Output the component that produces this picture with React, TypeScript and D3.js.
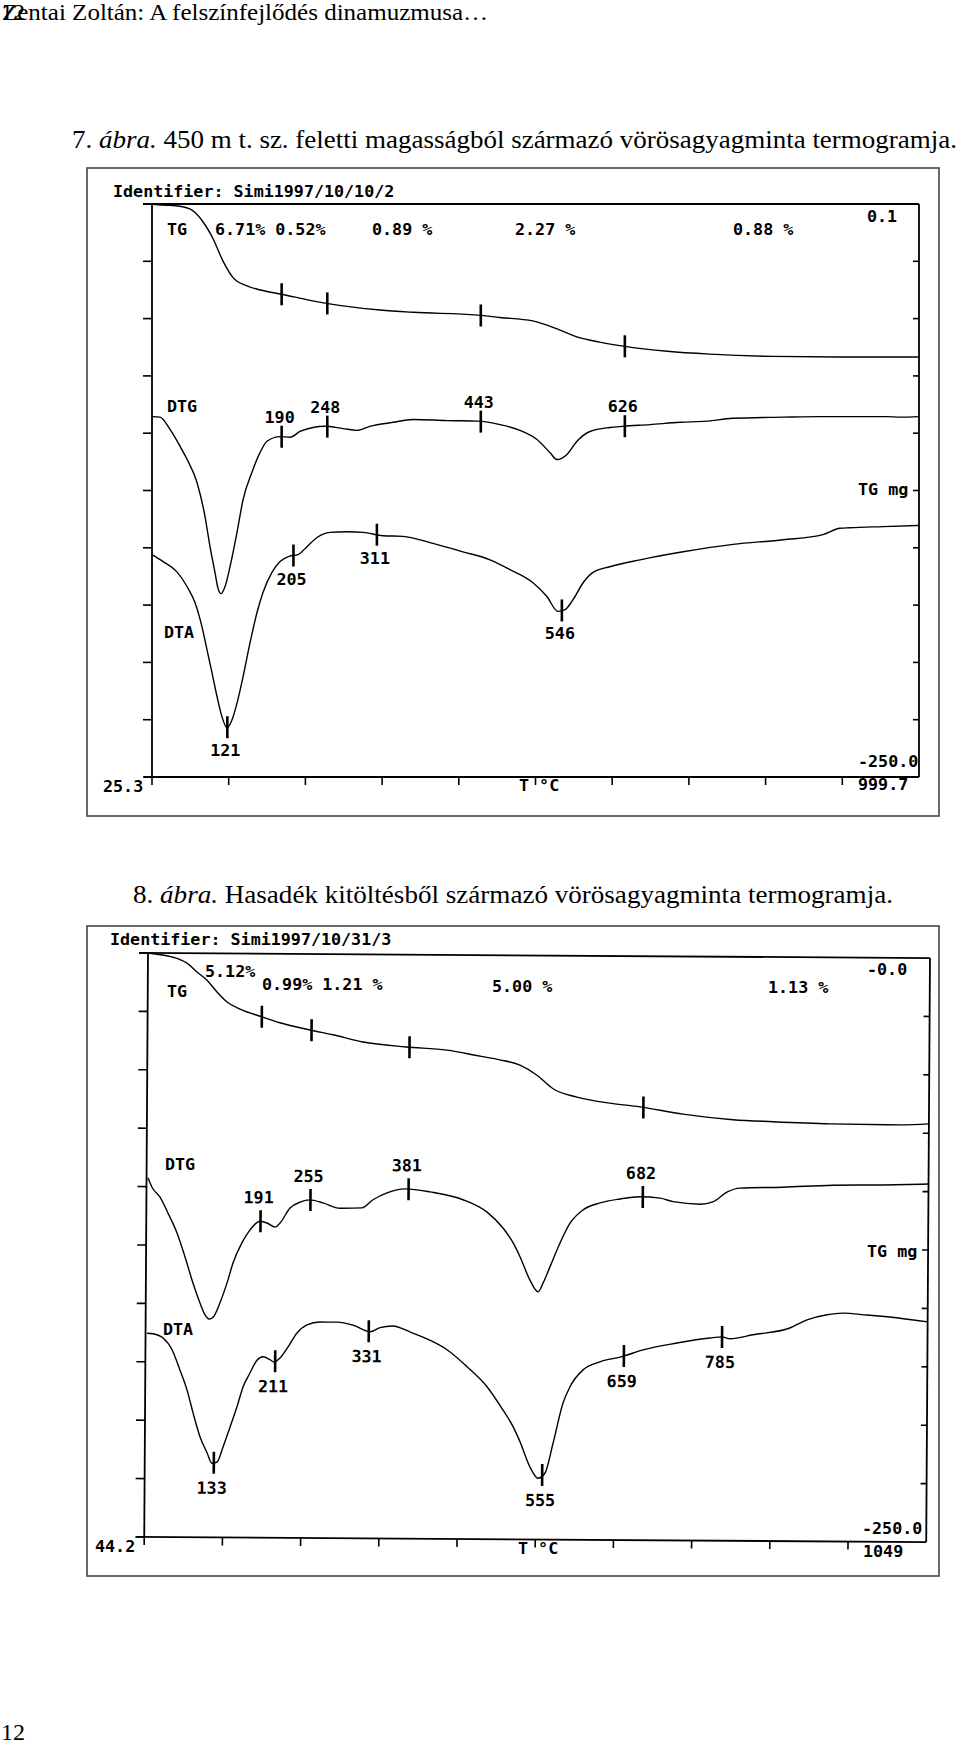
import React from 'react';
import * as d3 from 'd3';

// ---------- Chart 1 (Simi1997/10/10/2) ----------
const c1Range = [25.3, 999.7];
const c1TgT = [25.3, 39, 55, 74, 90, 103, 116, 128, 146, 163, 188, 245, 315, 357, 439, 467, 509, 540, 565, 594, 624, 680, 734, 814, 896, 999.7];
const c1TgV = [10, 9.98, 9.97, 9.91, 9.69, 9.39, 8.99, 8.72, 8.57, 8.5, 8.43, 8.27, 8.15, 8.11, 8.06, 8.02, 7.96, 7.82, 7.68, 7.59, 7.52, 7.43, 7.38, 7.34, 7.33, 7.33];
const c1DtgT = [25.3, 35.5, 48, 61, 70, 82.5, 92.6, 99, 105.3, 109, 113, 118, 124.4, 133.3, 141, 152.3, 162.5, 171.4, 188, 200.6, 213.3, 229.8, 245, 268, 285.7, 302, 331.5, 357, 400, 439.4, 467.4, 492.8, 514.4, 531, 539.8, 552.5, 565.2, 581.7, 607, 623.6, 658, 696, 730, 763, 827, 874, 959, 976, 999.7];
const c1DtgV = [6.29, 6.28, 6.07, 5.77, 5.54, 5.14, 4.55, 4.02, 3.57, 3.3, 3.2, 3.32, 3.67, 4.27, 4.84, 5.32, 5.66, 5.86, 5.94, 5.93, 6.03, 6.1, 6.12, 6.08, 6.05, 6.12, 6.19, 6.24, 6.22, 6.21, 6.15, 6.05, 5.89, 5.66, 5.54, 5.63, 5.86, 6.03, 6.1, 6.12, 6.15, 6.19, 6.21, 6.26, 6.28, 6.29, 6.29, 6.28, 6.29];
const c1DtaT = [25.3, 39.3, 57, 70, 80, 88.8, 95.2, 101.5, 108, 114.2, 120.6, 127, 133.3, 141, 149.8, 158.7, 166.3, 177.7, 188, 199.3, 210.8, 222.2, 235, 251.4, 273, 293.4, 318.8, 344.2, 378.5, 420.4, 454.7, 480, 509.3, 527, 541, 550, 560, 573, 585.6, 607, 645.3, 700, 763.4, 827, 877.7, 899.3, 912, 954, 999.7];
const c1DtaV = [3.88, 3.76, 3.58, 3.32, 3.04, 2.62, 2.22, 1.82, 1.4, 1.05, 0.86, 1.0, 1.29, 1.75, 2.34, 2.87, 3.22, 3.57, 3.76, 3.85, 3.88, 4.02, 4.18, 4.27, 4.28, 4.27, 4.21, 4.2, 4.09, 3.93, 3.79, 3.62, 3.39, 3.15, 2.89, 2.92, 3.09, 3.39, 3.57, 3.67, 3.79, 3.93, 4.06, 4.14, 4.23, 4.34, 4.35, 4.37, 4.39];
const c1DtgPeaks = [190, 248, 443, 626];
const c1DtaPeaks = [121, 205, 311, 546];
const c1TgSteps = ['6.71% 0.52%', '0.89 %', '2.27 %', '0.88 %'];

// ---------- Chart 2 (Simi1997/10/31/3) ----------
const c2Range = [44.2, 1049];
const c2TgT = [44.2, 55.8, 76.4, 94.4, 107.3, 120.2, 133.2, 146.1, 162.9, 191.2, 214.4, 253, 282.6, 321.2, 376.5, 429.2, 471.7, 497.4, 523.1, 545, 565.8, 596.6, 639.1, 677.7, 732.9, 797.3, 848.7, 921.9, 1011.9, 1049];
const c2TgV = [10, 9.98, 9.93, 9.83, 9.68, 9.54, 9.34, 9.17, 9.05, 8.92, 8.82, 8.7, 8.62, 8.5, 8.42, 8.37, 8.27, 8.21, 8.12, 7.95, 7.72, 7.58, 7.48, 7.42, 7.3, 7.21, 7.18, 7.15, 7.14, 7.16];
const c2DtgT = [46, 51.3, 61.7, 72, 83.8, 94.3, 104.8, 114, 120.5, 125.6, 130.8, 139.6, 148.5, 156, 167.4, 177.6, 190.3, 199.4, 209.7, 216.1, 228.8, 241.6, 254.4, 271, 293, 321.3, 335.4, 353.3, 376.4, 408.6, 451, 482, 502.6, 515.6, 524.7, 537.7, 548.2, 554.5, 563.3, 576, 588.7, 605.3, 627, 652.8, 678.4, 704, 721, 755.5, 772, 790, 806.8, 862, 926, 990.5, 1048.4];
const c2DtgV = [6.15, 5.99, 5.82, 5.55, 5.21, 4.8, 4.35, 4.01, 3.81, 3.74, 3.77, 4.02, 4.36, 4.7, 5.05, 5.27, 5.42, 5.39, 5.32, 5.39, 5.65, 5.75, 5.79, 5.74, 5.65, 5.66, 5.8, 5.92, 5.99, 5.94, 5.81, 5.6, 5.33, 5.08, 4.84, 4.44, 4.24, 4.39, 4.67, 5.08, 5.42, 5.65, 5.77, 5.84, 5.88, 5.86, 5.8, 5.76, 5.8, 5.97, 6.04, 6.06, 6.1, 6.11, 6.13];
const c2DtaT = [46, 53.8, 66.7, 78.4, 88.8, 98, 105.9, 115.1, 124.2, 130.7, 137.1, 144.7, 153.5, 162.3, 169.9, 178.7, 187.6, 195.3, 204.3, 209.5, 217.2, 227.4, 238.8, 251.6, 268.3, 290, 310.7, 332.6, 345.4, 362, 384, 409.8, 431.7, 457.6, 483.4, 504.2, 517.2, 526.3, 539.3, 549.7, 558.6, 568.7, 581.2, 590, 606.6, 628.4, 656.6, 683.6, 727, 769.5, 785, 795, 824.8, 872, 894, 919.7, 940, 971, 1013.5, 1049];
const c2DtaV = [3.49, 3.48, 3.41, 3.21, 2.86, 2.52, 2.13, 1.72, 1.45, 1.27, 1.29, 1.55, 1.89, 2.24, 2.58, 2.82, 3.04, 3.1, 3.05, 3.01, 3.08, 3.27, 3.51, 3.65, 3.7, 3.7, 3.65, 3.54, 3.61, 3.64, 3.54, 3.4, 3.24, 2.95, 2.61, 2.21, 1.93, 1.67, 1.24, 1.05, 1.14, 1.65, 2.34, 2.62, 2.91, 3.05, 3.14, 3.26, 3.38, 3.47, 3.49, 3.46, 3.53, 3.65, 3.79, 3.88, 3.91, 3.88, 3.83, 3.77];
const c2DtgPeaks = [191, 255, 381, 682];
const c2DtaPeaks = [133, 211, 331, 555, 659, 785];
const c2TgSteps = ['5.12%', '0.99% 1.21 %', '5.00 %', '1.13 %'];

const MONO = '"DejaVu Sans Mono", "Liberation Mono", monospace';
const SERIF = '"Liberation Serif", "Times New Roman", serif';
const FS = 16.7;

function interp(T: number[], V: number[], t: number) {
  const i = Math.max(1, Math.min(T.length - 1, d3.bisectLeft(T, t)));
  const t0 = T[i - 1], t1 = T[i];
  const f = (t - t0) / (t1 - t0);
  return V[i - 1] + f * (V[i] - V[i - 1]);
}

type PlotProps = {
  w: number; h: number; range: number[];
  tg: [number[], number[]]; dtg: [number[], number[]]; dta: [number[], number[]];
  dtgPeaks: number[]; dtaPeaks: number[];
  dtgDy: number; dtaDy: number;
};

function Plot({ w, h, range, tg, dtg, dta, dtgPeaks, dtaPeaks, dtgDy, dtaDy }: PlotProps) {
  const x = d3.scaleLinear().domain(range).range([0, w]);
  const y = d3.scaleLinear().domain([0, 10]).range([h, 0]);
  const div = d3.scaleLinear().domain([0, 10]).range([0, w]);
  const line = d3.line<number>().curve(d3.curveMonotoneX);
  const path = (s: [number[], number[]]) =>
    line.x((_, i) => x(s[0][i])).y((_, i) => y(s[1][i]))(s[0] as any) || '';
  const marker = (s: [number[], number[]], t: number, key: string) => {
    const cx = x(t), cy = y(interp(s[0], s[1], t));
    return <line key={key} x1={cx} x2={cx} y1={cy - 11} y2={cy + 11} stroke="#000" strokeWidth={2.6} />;
  };
  const label = (s: [number[], number[]], t: number, dy: number, key: string) => {
    const cx = x(t), cy = y(interp(s[0], s[1], t));
    return <text key={key} x={cx - 2} y={cy + dy} textAnchor="middle" fontFamily={MONO} fontWeight="bold" fontSize={FS}>{t}</text>;
  };
  const yt = d3.range(0, 11);
  return (
    <g>
      <line x1={-9} x2={w} y1={0} y2={0} stroke="#000" strokeWidth={1.8} />
      <line x1={0} x2={0} y1={0} y2={h} stroke="#000" strokeWidth={1.8} />
      <line x1={w} x2={w} y1={0} y2={h} stroke="#000" strokeWidth={1.8} />
      <line x1={-8} x2={w} y1={h} y2={h} stroke="#000" strokeWidth={1.8} />
      {yt.map(i => <line key={'l' + i} x1={-9} x2={0} y1={y(i)} y2={y(i)} stroke="#000" strokeWidth={1.6} />)}
      {yt.slice(1, 10).map(i => <line key={'r' + i} x1={w - 6} x2={w} y1={y(i)} y2={y(i)} stroke="#000" strokeWidth={1.6} />)}
      {d3.range(0, 10).map(i => <line key={'b' + i} x1={div(i)} x2={div(i)} y1={h} y2={h + 8} stroke="#000" strokeWidth={1.6} />)}
      <path d={path(tg)} fill="none" stroke="#000" strokeWidth={1.4} />
      <path d={path(dtg)} fill="none" stroke="#000" strokeWidth={1.4} />
      <path d={path(dta)} fill="none" stroke="#000" strokeWidth={1.4} />
      {dtgPeaks.map(t => marker(tg, t, 'tgm' + t))}
      {dtgPeaks.map(t => marker(dtg, t, 'dgm' + t))}
      {dtaPeaks.map(t => marker(dta, t, 'dam' + t))}
      {dtgPeaks.map(t => label(dtg, t, dtgDy, 'dgl' + t))}
      {dtaPeaks.map(t => label(dta, t, dtaDy, 'dal' + t))}
    </g>
  );
}

const T = (props: { x: number; y: number; children: React.ReactNode }) => (
  <text x={props.x} y={props.y} fontFamily={MONO} fontWeight="bold" fontSize={FS} fill="#000">{props.children}</text>
);

export default function App() {
  const c1StepX = [215, 372, 515, 733];
  const c2StepX = [205, 262, 492, 768];
  const c2StepY = [977, 990, 992, 993];
  return (
    <svg width={960} height={1741} style={{ position: 'absolute', left: 0, top: 0, background: '#fff' }}>
      <rect x={0} y={0} width={960} height={1741} fill="#fff" />
      {/* page header */}
      <text x={2} y={20} fontFamily={SERIF} fontSize={24} textLength={486} lengthAdjust="spacingAndGlyphs">Zentai Zoltán: A felszínfejlődés dinamuzmusa…</text>
      <text x={1} y={20} fontFamily={SERIF} fontSize={24}>12</text>

      {/* caption 1 */}
      <text x={72} y={148} fontFamily={SERIF} fontSize={25} textLength={885} lengthAdjust="spacingAndGlyphs">
        <tspan>7. </tspan><tspan fontStyle="italic">ábra.</tspan><tspan> 450 m t. sz. feletti magasságból származó vörösagyagminta termogramja.</tspan>
      </text>

      {/* chart 1 */}
      <rect x={87} y={168} width={852} height={648} fill="none" stroke="#444" strokeWidth={1.6} />
      <T x={113} y={197}>Identifier: Simi1997/10/10/2</T>
      <g transform="translate(152,204)">
        <Plot w={767} h={573} range={c1Range} tg={[c1TgT, c1TgV]} dtg={[c1DtgT, c1DtgV]} dta={[c1DtaT, c1DtaV]}
          dtgPeaks={c1DtgPeaks} dtaPeaks={c1DtaPeaks} dtgDy={-14} dtaDy={29} />
      </g>
      <T x={167} y={235}>TG</T>
      {c1TgSteps.map((s, i) => <T key={s} x={c1StepX[i]} y={235}>{s}</T>)}
      <T x={867} y={222}>0.1</T>
      <T x={167} y={412}>DTG</T>
      <T x={164} y={638}>DTA</T>
      <T x={858} y={495}>TG mg</T>
      <T x={858} y={767}>-250.0</T>
      <T x={858} y={790}>999.7</T>
      <T x={103} y={792}>25.3</T>
      <T x={519} y={791}>T °C</T>

      {/* caption 2 */}
      <text x={133} y={903} fontFamily={SERIF} fontSize={25} textLength={760} lengthAdjust="spacingAndGlyphs">
        <tspan>8. </tspan><tspan fontStyle="italic">ábra.</tspan><tspan> Hasadék kitöltésből származó vörösagyagminta termogramja.</tspan>
      </text>

      {/* chart 2 */}
      <rect x={87} y={926} width={852} height={650} fill="none" stroke="#444" strokeWidth={1.6} />
      <T x={110} y={945}>Identifier: Simi1997/10/31/3</T>
      <g transform="translate(148,953) rotate(0.37)">
        <Plot w={782} h={584} range={c2Range} tg={[c2TgT, c2TgV]} dtg={[c2DtgT, c2DtgV]} dta={[c2DtaT, c2DtaV]}
          dtgPeaks={c2DtgPeaks} dtaPeaks={c2DtaPeaks} dtgDy={-18} dtaDy={31} />
      </g>
      <T x={167} y={997}>TG</T>
      {c2TgSteps.map((s, i) => <T key={s} x={c2StepX[i]} y={c2StepY[i]}>{s}</T>)}
      <T x={867} y={975}>-0.0</T>
      <T x={165} y={1170}>DTG</T>
      <T x={163} y={1335}>DTA</T>
      <T x={867} y={1257}>TG mg</T>
      <T x={862} y={1534}>-250.0</T>
      <T x={863} y={1557}>1049</T>
      <T x={95} y={1552}>44.2</T>
      <T x={518} y={1554}>T °C</T>

      {/* page number */}
      <text x={1} y={1740} fontFamily={SERIF} fontSize={24}>12</text>
    </svg>
  );
}
